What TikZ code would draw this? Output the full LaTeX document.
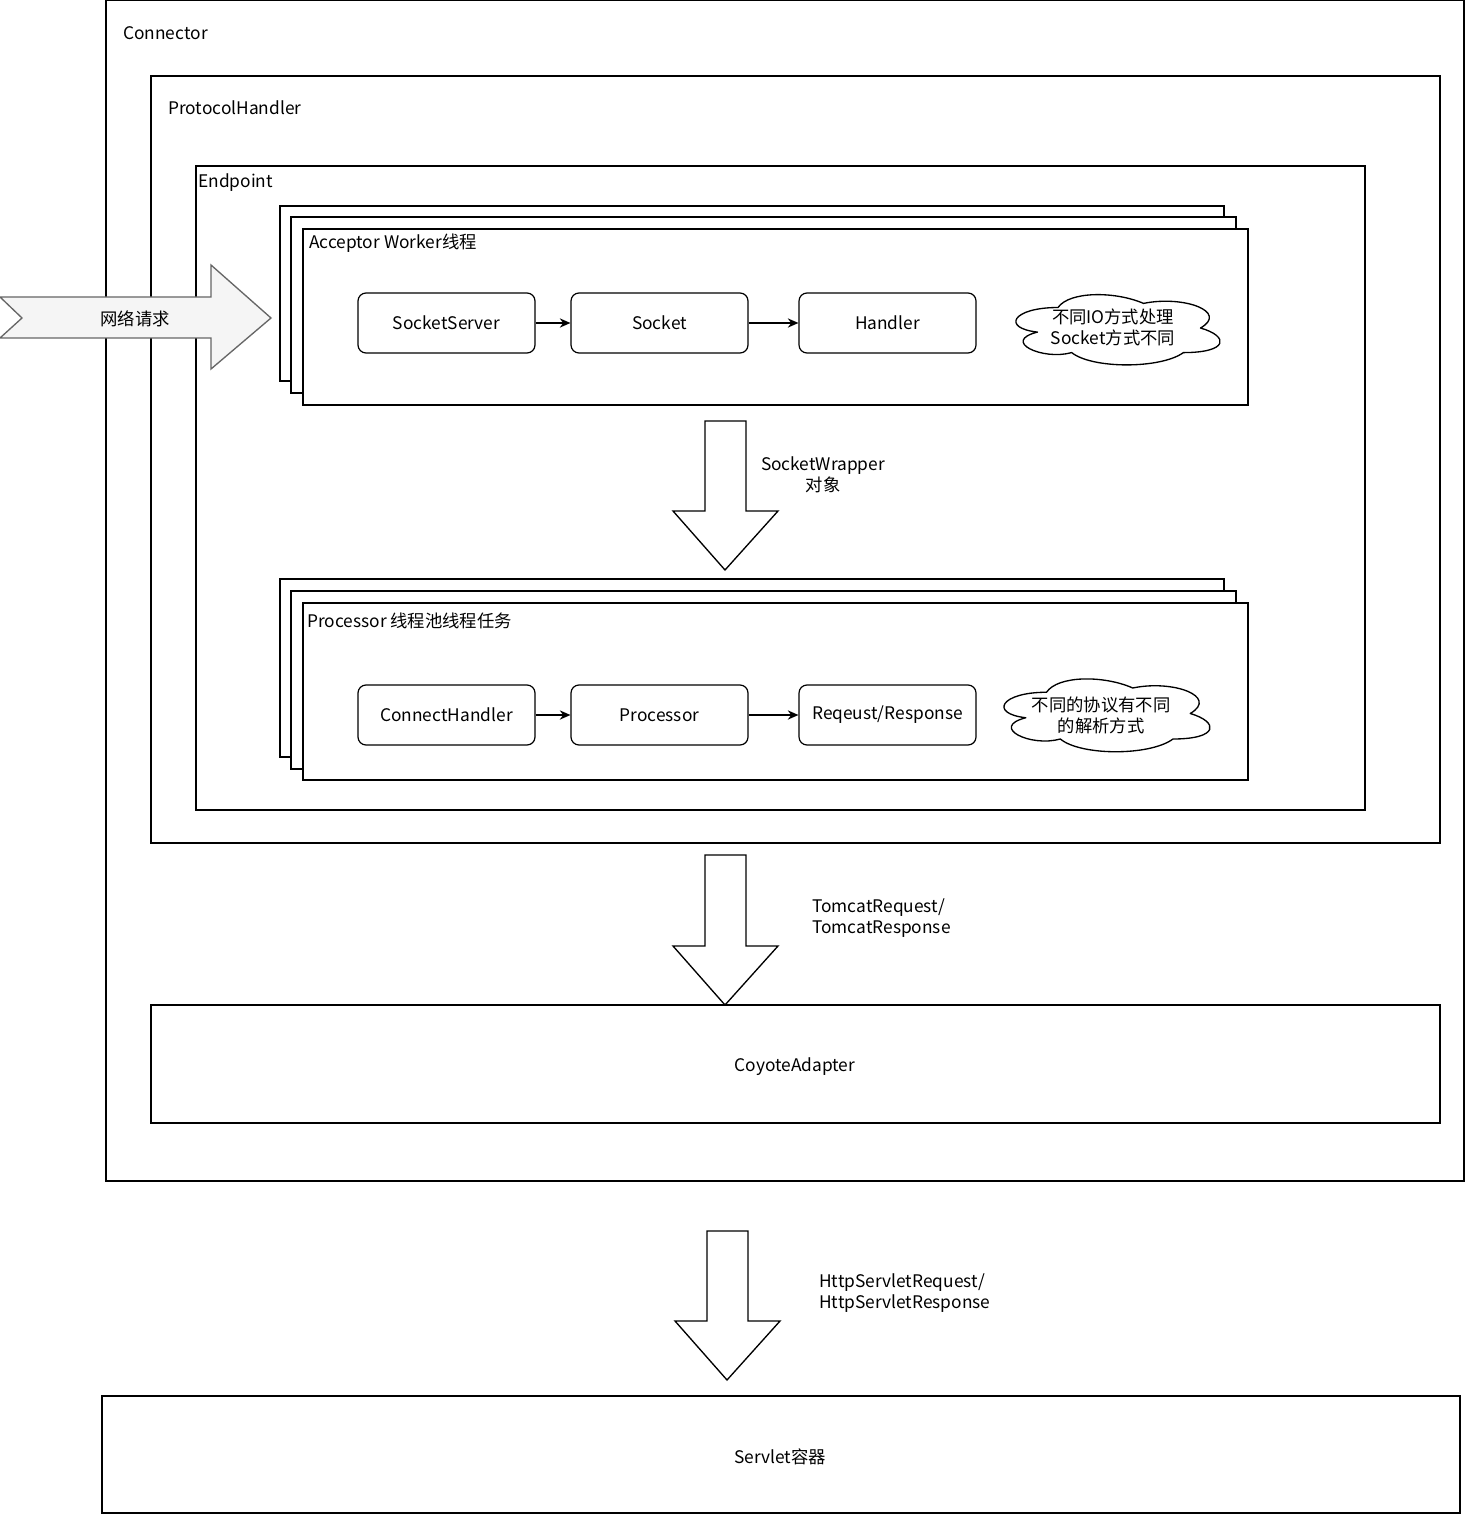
\documentclass[tikz,border=0pt]{standalone}
\usepackage{fontspec}
\setmainfont{Noto Sans CJK SC}
\usetikzlibrary{arrows.meta,fit}
\definecolor{arrowfill}{HTML}{F5F5F5}
\definecolor{arrowline}{HTML}{666666}
% draw.io style cloud: #1,#2 = top-left of box (px), #3,#4 = width, height (px)
\newcommand\drawioCloud[4]{%
  \begin{scope}[shift={(#1,#2)},x=#3*0.75pt,y=-#4*0.75pt]
    \path[cloudline] (0.25,0.25)
      .. controls (0.05,0.25) and (0,0.5) .. (0.16,0.55)
      .. controls (0,0.66) and (0.18,0.9) .. (0.31,0.8)
      .. controls (0.4,1) and (0.7,1) .. (0.8,0.8)
      .. controls (1,0.8) and (1,0.6) .. (0.875,0.5)
      .. controls (1,0.3) and (0.8,0.1) .. (0.625,0.2)
      .. controls (0.5,0.05) and (0.3,0.05) .. (0.25,0.25) -- cycle;
  \end{scope}}
\begin{document}
\begin{tikzpicture}[x=0.75pt,y=-0.75pt,
  font=\fontsize{13}{15.75}\selectfont,
  frame/.style={draw=black,line width=1pt,fill=white,inner sep=0pt},
  outline/.style={draw=black,line width=1pt,inner sep=0pt},
  lbl/.style={anchor=west,inner sep=0pt},
  stepbox/.style={draw=black,line width=0.9pt,rounded corners=6pt,fill=white,
    minimum width=132.75pt,minimum height=45pt,inner sep=0pt},
  link/.style={draw=black,line width=1pt,-{Stealth[length=8pt,width=7pt]}},
  bigarrow/.style={draw=black,line width=1pt,fill=white},
  cloudline/.style={draw=black,line width=1pt,fill=white,line join=round},
  notetext/.style={align=center,inner sep=0pt}
]
\useasboundingbox (0,0) rectangle (1466,1515);
\fill[white] (0,0) rectangle (1466,1515);

% Connector
\node[outline,fit={(106,0) (1464,1181)}] (connector) {};
\node[lbl] (connectorlbl) at (123,33) {Connector};

% ProtocolHandler
\node[outline,fit={(151,76) (1440,843)}] (protocol) {};
\node[lbl] (protocollbl) at (168,108) {ProtocolHandler};

% Endpoint
\node[outline,fit={(196,166) (1365,810)}] (endpoint) {};
\node[lbl] (endpointlbl) at (198,183) {Endpoint};

% Network request arrow (on top of the container outlines)
\path[draw=arrowline,fill=arrowfill,line width=1pt]
  (0,297) -- (211,297) -- (211,265) -- (271,318) -- (211,369) -- (211,338)
  -- (0,338) -- (22,318) -- cycle;
\node (net) at (135,319) {网络请求};

% Acceptor stack
\node[frame,fit={(280,206) (1224,381)}] (acc3) {};
\node[frame,fit={(291,217) (1236,393)}] (acc2) {};
\node[frame,fit={(303,229) (1248,405)}] (acc1) {};
\node[lbl] (acclbl) at (309,243) {Acceptor Worker线程};

\node[stepbox] (ss) at (446.5,323) {SocketServer};
\node[stepbox] (sock) at (659.5,323) {Socket};
\node[stepbox] (hand) at (887.5,323) {Handler};
\draw[link] (ss) -- (sock);
\draw[link] (sock) -- (hand);
\drawioCloud{1001}{287}{228}{82}
\node[notetext] (cloud1txt) at (1113,327) {不同IO方式处理\\Socket方式不同};

% SocketWrapper arrow
\path[bigarrow] (705,421) -- (746,421) -- (746,511) -- (778,511) -- (725,570)
  -- (673,511) -- (705,511) -- cycle;
\node[align=center] (swlbl) at (823,475) {SocketWrapper\\对象};

% Processor stack
\node[frame,fit={(280,579) (1224,757)}] (pro3) {};
\node[frame,fit={(291,591) (1236,769)}] (pro2) {};
\node[frame,fit={(303,603) (1248,780)}] (pro1) {};
\node[lbl] (prolbl) at (307,621) {Processor 线程池线程任务};

\node[stepbox] (ch) at (446.5,715) {ConnectHandler};
\node[stepbox] (proc) at (659.5,715) {Processor};
\node[stepbox] (rr) at (887.5,715) {Reqeust/Response};
\draw[link] (ch) -- (proc);
\draw[link] (proc) -- (rr);
\drawioCloud{989}{671}{230}{85}
\node[notetext] (cloud2txt) at (1101,715) {不同的协议有不同\\的解析方式};

% Tomcat arrow
\path[bigarrow] (705,855) -- (746,855) -- (746,946) -- (778,946) -- (725,1005)
  -- (673,946) -- (705,946) -- cycle;
\node[lbl,align=left] (tomlbl) at (812,918) {TomcatRequest/\\TomcatResponse};

% CoyoteAdapter
\node[frame,fit={(151,1005) (1440,1123)}] (coyote) {};
\node (coyotelbl) at (795,1067) {CoyoteAdapter};

% HttpServlet arrow
\path[bigarrow] (707,1231) -- (748,1231) -- (748,1321) -- (780,1321) -- (727,1380)
  -- (675,1321) -- (707,1321) -- cycle;
\node[lbl,align=left] (httplbl) at (819,1293) {HttpServletRequest/\\HttpServletResponse};

% Servlet container
\node[frame,fit={(102,1396) (1460,1513)}] (servlet) {};
\node (servletlbl) at (780,1457) {Servlet容器};
\end{tikzpicture}
\end{document}
